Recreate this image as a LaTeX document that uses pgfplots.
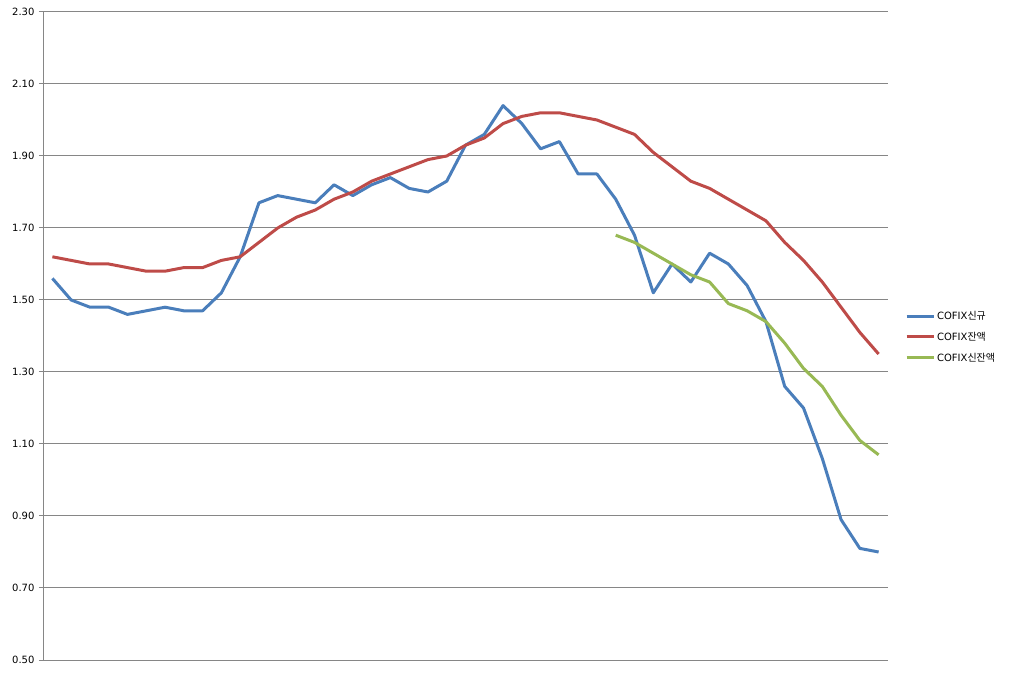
\documentclass[border=0pt]{standalone}
\usepackage{pgfplots}
\pgfplotsset{compat=1.18}
\usepackage{fontspec}
\setmainfont{DejaVu Sans}
\newfontfamily\kr{Noto Sans CJK KR}
\definecolor{xblue}{HTML}{4A7EBB}
\definecolor{xred}{HTML}{BE4B48}
\definecolor{xgreen}{HTML}{98B954}
\definecolor{xgrid}{HTML}{868686}
\begin{document}
\begin{tikzpicture}[x=1pt,y=1pt]
\useasboundingbox (0,0) rectangle (1023,675);
\begin{axis}[
  at={(43pt,15pt)}, anchor=south west,
  scale only axis, width=845pt, height=648pt,
  xmin=-0.5, xmax=44.5, ymin=0.5, ymax=2.3,
  xtick=\empty,
  ytick={0.5,0.7,0.9,1.1,1.3,1.5,1.7,1.9,2.1,2.3},
  yticklabel style={font=\fontsize{10}{12}\selectfont, xshift=-1pt,
    /pgf/number format/fixed, /pgf/number format/fixed zerofill,
    /pgf/number format/precision=2, /pgf/number format/assume math mode=true},
  ymajorgrids, grid style={xgrid, line width=1pt},
  axis x line*=bottom, axis y line*=left,
  axis line style={xgrid, line width=1pt, -},
  major tick style={xgrid, line width=1pt},
  tick align=outside, major tick length=4pt,
  legend style={at={(1.02,0.4985)}, anchor=west, draw=none, fill=none,
    font=\fontsize{10}{12}\selectfont, row sep=7pt, inner sep=0pt,
    legend cell align=left},
  legend image code/.code={\draw[#1] (0pt,0pt) -- (27pt,0pt);},
  every axis plot/.append style={line width=3pt, line join=round, mark=none},
]
\addplot[xblue] coordinates {
(0,1.56)(1,1.50)(2,1.48)(3,1.48)(4,1.46)(5,1.47)(6,1.48)(7,1.47)(8,1.47)(9,1.52)
(10,1.62)(11,1.77)(12,1.79)(13,1.78)(14,1.77)(15,1.82)(16,1.79)(17,1.82)(18,1.84)(19,1.81)
(20,1.80)(21,1.83)(22,1.93)(23,1.96)(24,2.04)(25,1.99)(26,1.92)(27,1.94)(28,1.85)(29,1.85)
(30,1.78)(31,1.68)(32,1.52)(33,1.60)(34,1.55)(35,1.63)(36,1.60)(37,1.54)(38,1.44)(39,1.26)
(40,1.20)(41,1.06)(42,0.89)(43,0.81)(44,0.80)};
\addlegendentry{COFIX{\kr 신규}}
\addplot[xred] coordinates {
(0,1.62)(1,1.61)(2,1.60)(3,1.60)(4,1.59)(5,1.58)(6,1.58)(7,1.59)(8,1.59)(9,1.61)
(10,1.62)(11,1.66)(12,1.70)(13,1.73)(14,1.75)(15,1.78)(16,1.80)(17,1.83)(18,1.85)(19,1.87)
(20,1.89)(21,1.90)(22,1.93)(23,1.95)(24,1.99)(25,2.01)(26,2.02)(27,2.02)(28,2.01)(29,2.00)
(30,1.98)(31,1.96)(32,1.91)(33,1.87)(34,1.83)(35,1.81)(36,1.78)(37,1.75)(38,1.72)(39,1.66)
(40,1.61)(41,1.55)(42,1.48)(43,1.41)(44,1.35)};
\addlegendentry{COFIX{\kr 잔액}}
\addplot[xgreen] coordinates {
(30,1.68)(31,1.66)(32,1.63)(33,1.60)(34,1.57)(35,1.55)(36,1.49)(37,1.47)(38,1.44)(39,1.38)
(40,1.31)(41,1.26)(42,1.18)(43,1.11)(44,1.07)};
\addlegendentry{COFIX{\kr 신잔액}}
\end{axis}
\end{tikzpicture}
\end{document}
